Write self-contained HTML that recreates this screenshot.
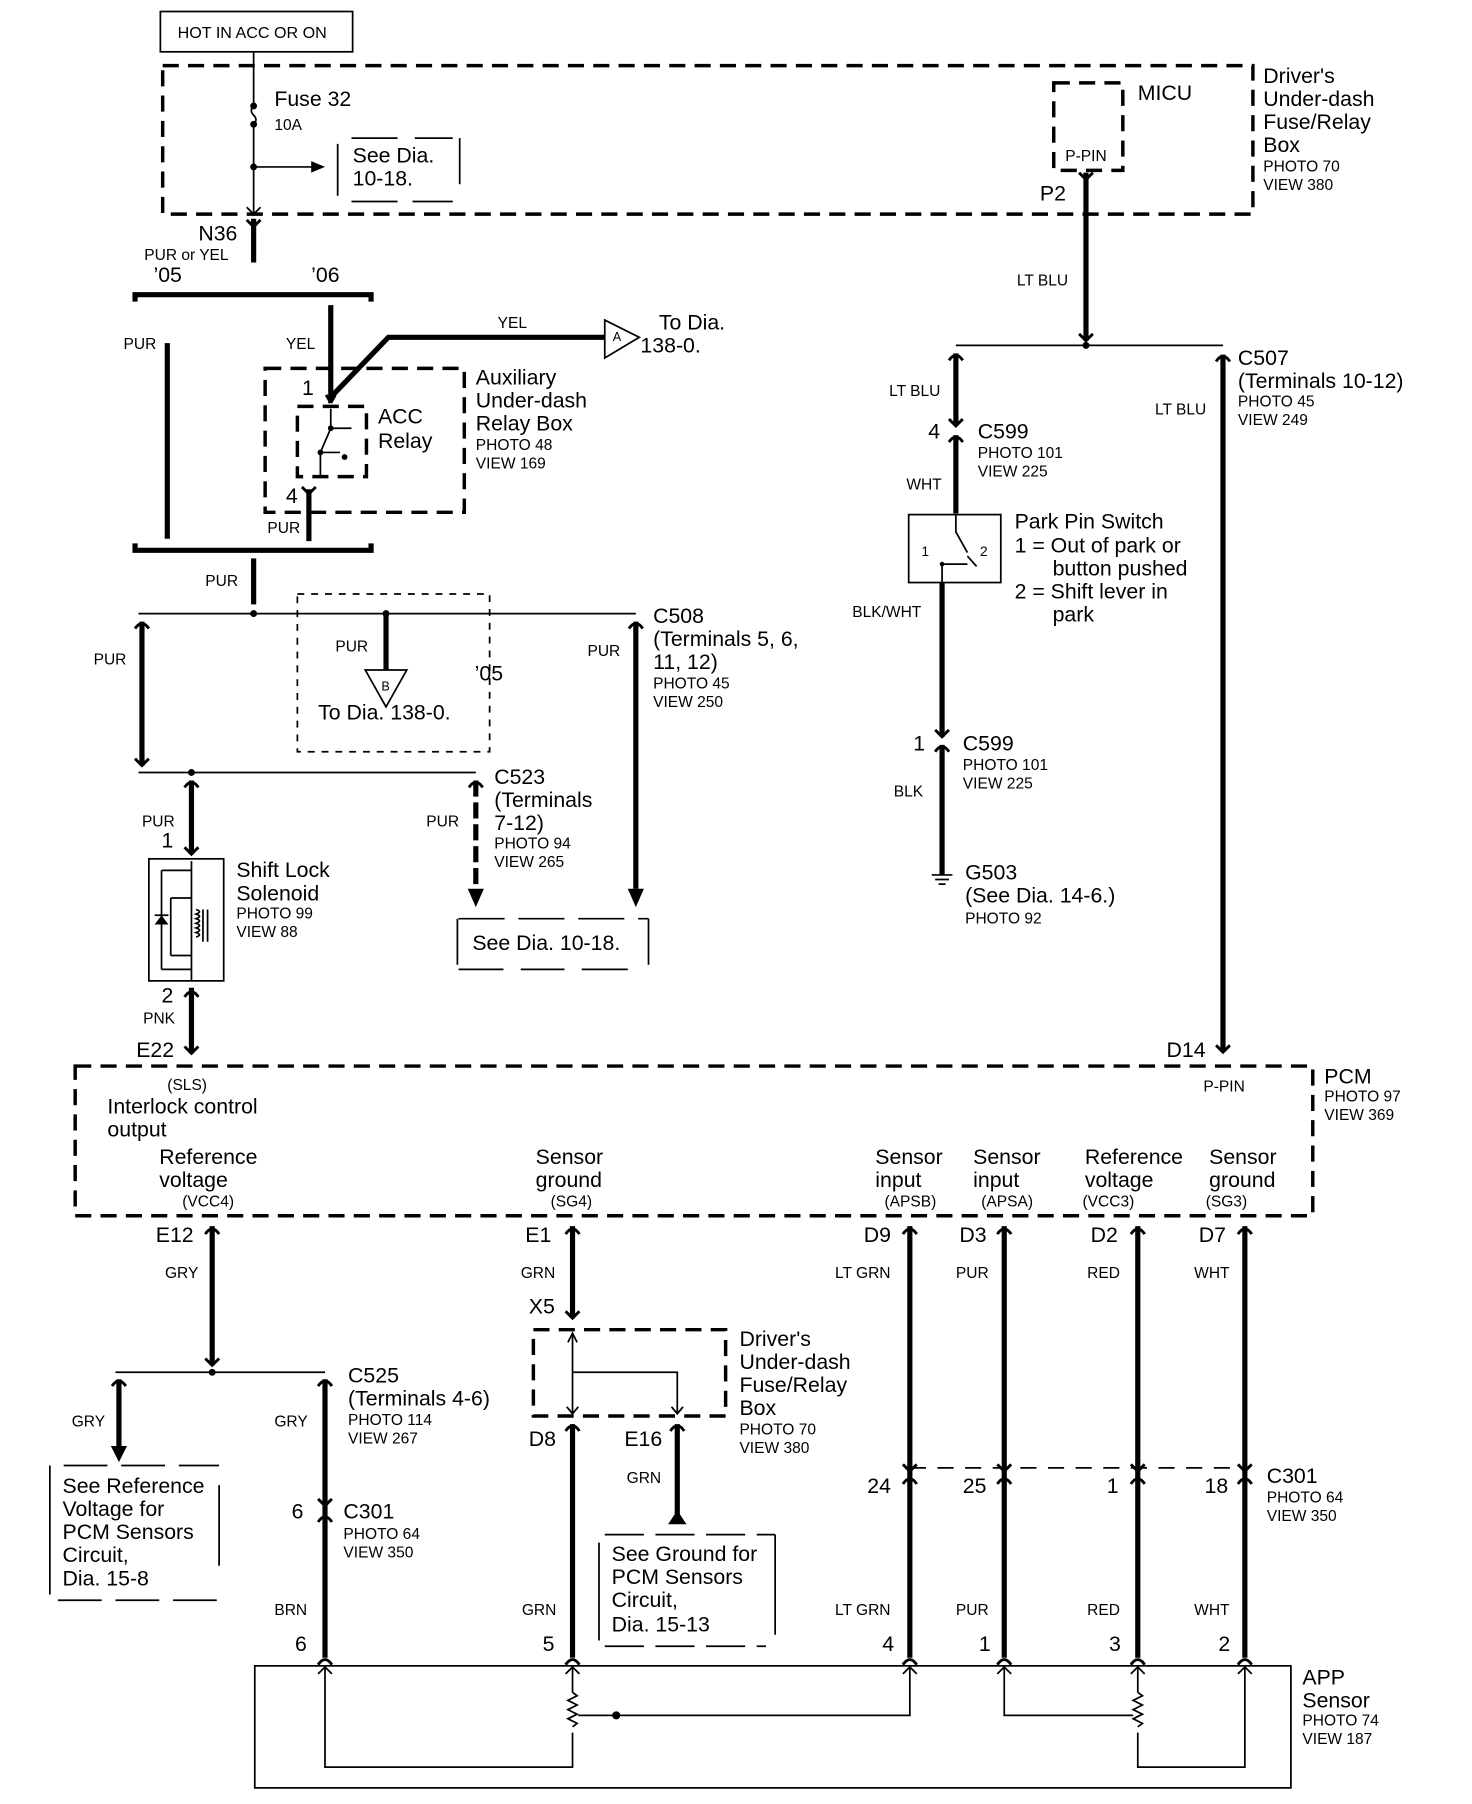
<!DOCTYPE html>
<html><head><meta charset="utf-8"><style>
html,body{margin:0;padding:0;background:#fff}
svg{display:block}
text{font-family:"Liberation Sans",Arial,sans-serif;fill:#000}
.b{font-size:18.5px}.s{font-size:13.5px}
.tk{stroke:#000;stroke-width:4.5;fill:none}
.tn{stroke:#000;stroke-width:1.5;fill:none}
.ds{stroke:#000;stroke-width:3;fill:none;stroke-dasharray:14 8}
.dt{stroke:#000;stroke-width:1.5;fill:none;stroke-dasharray:6 6}
.cv{stroke:#000;stroke-width:2.5;fill:none}
</style></head><body>
<svg width="1472" height="1804" viewBox="0 0 1278 1567" xmlns="http://www.w3.org/2000/svg">
<defs>
<path id="up" d="M-6,-6 L0,0 L6,-6" class="cv"/>
<path id="dn" d="M-6,6 Q0,-3 6,6" class="cv"/>
</defs>
<!-- top -->
<rect x="139" y="10" width="167" height="35" class="tn" stroke-width="2"/>
<text x="154" y="33" class="s" style="font-size:14px">HOT IN ACC OR ON</text>
<rect x="141" y="57" width="947" height="129" class="ds"/>
<path d="M220,45 V92 M220,108 V186" class="tn"/>
<path d="M220,92 q-4,4 0,8 q4,4 0,8" class="tn"/>
<circle cx="220" cy="92" r="3"/><circle cx="220" cy="108" r="3"/><circle cx="220" cy="145" r="3"/>
<path d="M220,145 H272" class="tn"/><path d="M270,140 L282,145 L270,150Z"/>
<path d="M214,180 L220,186 L226,180" class="tn"/>
<text x="238" y="92" class="b">Fuse 32</text><text x="238" y="113" class="s">10A</text>
<text x="306" y="141" class="b">See Dia.</text><text x="306" y="161" class="b">10-18.</text>
<path d="M293,125 V170 M399,120 V160" class="tn"/>
<path d="M305,120 H345 M360,120 H393 M305,175 H345 M358,175 H393" class="tn" stroke-width="2"/>
<rect x="915" y="72" width="60" height="76" class="ds" stroke-dasharray="10 6"/>
<text x="925" y="140" class="s">P-PIN</text><text x="988" y="87" class="b">MICU</text>
<text x="903" y="174" class="b">P2</text>
<text x="1097" y="72" class="b">Driver's</text><text x="1097" y="92" class="b">Under-dash</text><text x="1097" y="112" class="b">Fuse/Relay</text><text x="1097" y="132" class="b">Box</text>
<text x="1097" y="149" class="s">PHOTO 70</text><text x="1097" y="165" class="s">VIEW 380</text>
<!-- N36 -->
<path d="M220,190 V228" class="tk"/><use href="#up" x="220" y="197"/>
<text x="172" y="209" class="b">N36</text><text x="125" y="226" class="s">PUR or YEL</text>
<text x="133" y="245" class="b">’05</text><text x="270" y="245" class="b">’06</text>
<path d="M117,262 V256 H322 V262 M117,472 V478 H322 V472" class="tk" stroke-width="3.5"/>
<path d="M145,298 V468" class="tk"/><text x="107" y="303" class="s">PUR</text>
<path d="M287,265 V345 L337,293 H525" class="tk"/><text x="248" y="303" class="s">YEL</text>
<text x="432" y="285" class="s">YEL</text>
<path d="M525,278 L555,293 L525,311Z" class="tn" stroke-width="2"/><text x="532" y="296" class="s" style="font-size:11px">A</text>
<text x="572" y="286" class="b">To Dia.</text><text x="556" y="306" class="b">138-0.</text>
<rect x="230" y="320" width="173" height="125" class="ds" stroke-dasharray="12 7"/>
<rect x="258" y="353" width="60" height="61" class="ds" stroke-dasharray="9 6"/>
<path d="M287,350 L283,343 M287,350 L291,343" class="cv"/>
<path d="M287,355 V372 L278,393 V413 M278,393 H295 M285,372 H305" class="tn"/>
<circle cx="287" cy="372" r="2.5"/><circle cx="278" cy="393" r="2.5"/><circle cx="299" cy="397" r="2.5"/>
<text x="262" y="343" class="b">1</text><text x="248" y="437" class="b">4</text>
<text x="328" y="368" class="b">ACC</text><text x="328" y="389" class="b">Relay</text>
<text x="413" y="334" class="b">Auxiliary</text><text x="413" y="354" class="b">Under-dash</text><text x="413" y="374" class="b">Relay Box</text>
<text x="413" y="391" class="s">PHOTO 48</text><text x="413" y="407" class="s">VIEW 169</text>
<path d="M268,425 V470" class="tk"/><use href="#up" x="268" y="429"/><text x="232" y="463" class="s">PUR</text>
<path d="M220,485 V525" class="tk"/><text x="178" y="509" class="s">PUR</text>
<path d="M120,533 H552" class="tn"/><circle cx="220" cy="533" r="3"/><circle cx="335" cy="533" r="3"/>
<rect x="258" y="516" width="167" height="137" class="dt"/>
<text x="412" y="591" class="b">’05</text><text x="291" y="566" class="s">PUR</text>
<path d="M335,533 V582" class="tk"/>
<path d="M317,582 H353 L335,614Z" class="tn" stroke-width="2"/><text x="331" y="600" class="s" style="font-size:11px">B</text>
<text x="276" y="625" class="b">To Dia. 138-0.</text>
<path d="M123,540 V665" class="tk"/><use href="#dn" x="123" y="540"/><use href="#up" x="123" y="665"/><text x="81" y="577" class="s">PUR</text>
<path d="M552,540 V772" class="tk"/><use href="#dn" x="552" y="540"/><path d="M545,772 L552,788 L559,772Z"/><text x="510" y="570" class="s">PUR</text>
<text x="567" y="541" class="b">C508</text><text x="567" y="561" class="b">(Terminals 5, 6,</text><text x="567" y="581" class="b">11, 12)</text>
<text x="567" y="598" class="s">PHOTO 45</text><text x="567" y="614" class="s">VIEW 250</text>
<path d="M120,671 H413" class="tn"/><circle cx="166" cy="671" r="3"/>
<text x="429" y="681" class="b">C523</text><text x="429" y="701" class="b">(Terminals</text><text x="429" y="721" class="b">7-12)</text>
<text x="429" y="737" class="s">PHOTO 94</text><text x="429" y="753" class="s">VIEW 265</text>
<path d="M166,678 V742" class="tk"/><use href="#dn" x="166" y="678"/><use href="#up" x="166" y="742"/><text x="123" y="718" class="s">PUR</text><text x="140" y="736" class="b">1</text>
<path d="M413,678 V772" class="tk" stroke-dasharray="14 5"/><use href="#dn" x="413" y="678"/><path d="M406,772 L413,788 L420,772Z"/><text x="370" y="718" class="s">PUR</text>
<text x="410" y="825" class="b">See Dia. 10-18.</text>
<path d="M397,798 V838 M563,798 V838" class="tn"/>
<path d="M398,798 H563 M398,842 H437 M452,842 H490 M505,842 H545" class="tn" stroke-width="2" stroke-dasharray="40 12"/>
<rect x="129" y="746" width="65" height="106" class="tn" stroke-width="2.5"/>
<path d="M166,748 V852 M140,756 H166 M140,842 H166 M140,756 V842 M148,780 V830 M148,830 H166 M148,780 H166" class="tn"/>
<path d="M134,803 H146 L140,795Z"/><path d="M134,795 H146" class="tn"/>
<path d="M176,790 V818 M180,790 V818 M170,790 q6,2 0,4 q6,2 0,4 q6,2 0,4 q6,2 0,4 q6,2 0,4 q6,2 0,4" class="tn"/>
<text x="205" y="762" class="b">Shift Lock</text><text x="205" y="782" class="b">Solenoid</text>
<text x="205" y="798" class="s">PHOTO 99</text><text x="205" y="814" class="s">VIEW 88</text>
<text x="140" y="871" class="b">2</text><text x="124" y="889" class="s">PNK</text>
<path d="M166,858 V915" class="tk"/><use href="#dn" x="166" y="860"/><use href="#up" x="166" y="915"/>
<text x="118" y="918" class="b">E22</text>
<!-- right top -->
<path d="M943,150 V296" class="tk"/><use href="#up" x="943" y="156"/><use href="#up" x="943" y="296"/>
<text x="883" y="248" class="s">LT BLU</text>
<path d="M830,300 H1062" class="tn"/><circle cx="943" cy="300" r="3"/>
<path d="M830,307 V368" class="tk"/><use href="#dn" x="830" y="307"/><use href="#up" x="830" y="370"/><text x="772" y="344" class="s">LT BLU</text>
<text x="806" y="381" class="b">4</text><text x="849" y="381" class="b">C599</text><text x="849" y="398" class="s">PHOTO 101</text><text x="849" y="414" class="s">VIEW 225</text>
<path d="M830,378 V446" class="tk"/><use href="#dn" x="830" y="378"/><text x="787" y="425" class="s">WHT</text>
<rect x="789" y="447" width="80" height="59" class="tn" stroke-width="2.5"/>
<path d="M830,447 V462 L840,480 M818,490 V506 M818,490 H840 M840,483 L848,492" class="tn"/>
<circle cx="818" cy="490" r="2"/>
<text x="800" y="483" class="s" style="font-size:12px">1</text><text x="851" y="483" class="s" style="font-size:12px">2</text>
<text x="881" y="459" class="b">Park Pin Switch</text><text x="881" y="480" class="b">1 = Out of park or</text><text x="914" y="500" class="b">button pushed</text>
<text x="881" y="520" class="b">2 = Shift lever in</text><text x="914" y="540" class="b">park</text>
<path d="M818,506 V640" class="tk"/><text x="740" y="536" class="s">BLK/WHT</text>
<use href="#up" x="818" y="640"/><use href="#dn" x="818" y="647"/>
<text x="793" y="652" class="b">1</text><text x="836" y="652" class="b">C599</text><text x="836" y="669" class="s">PHOTO 101</text><text x="836" y="685" class="s">VIEW 225</text>
<path d="M818,647 V760" class="tk"/><text x="776" y="692" class="s">BLK</text>
<path d="M809,760 H827 M812,764 H824 M815,768 H821" class="tn" stroke-width="2"/>
<text x="838" y="764" class="b">G503</text><text x="838" y="784" class="b">(See Dia. 14-6.)</text><text x="838" y="802" class="s">PHOTO 92</text>
<path d="M1062,308 V912" class="tk"/><use href="#dn" x="1062" y="308"/><use href="#up" x="1062" y="914"/>
<text x="1003" y="360" class="s">LT BLU</text>
<text x="1075" y="317" class="b">C507</text><text x="1075" y="337" class="b">(Terminals 10-12)</text><text x="1075" y="353" class="s">PHOTO 45</text><text x="1075" y="369" class="s">VIEW 249</text>
<text x="1013" y="918" class="b">D14</text>
<!-- PCM -->
<rect x="65" y="926" width="1075" height="130" class="ds"/>
<text x="145" y="947" class="s">(SLS)</text><text x="93" y="967" class="b">Interlock control</text><text x="93" y="987" class="b">output</text>
<text x="1045" y="948" class="s">P-PIN</text>
<text x="1150" y="941" class="b">PCM</text><text x="1150" y="957" class="s">PHOTO 97</text><text x="1150" y="973" class="s">VIEW 369</text>
<text x="138" y="1011" class="b">Reference</text><text x="138" y="1031" class="b">voltage</text><text x="158" y="1048" class="s">(VCC4)</text>
<text x="465" y="1011" class="b">Sensor</text><text x="465" y="1031" class="b">ground</text><text x="478" y="1048" class="s">(SG4)</text>
<text x="760" y="1011" class="b">Sensor</text><text x="760" y="1031" class="b">input</text><text x="768" y="1048" class="s">(APSB)</text>
<text x="845" y="1011" class="b">Sensor</text><text x="845" y="1031" class="b">input</text><text x="852" y="1048" class="s">(APSA)</text>
<text x="942" y="1011" class="b">Reference</text><text x="942" y="1031" class="b">voltage</text><text x="940" y="1048" class="s">(VCC3)</text>
<text x="1050" y="1011" class="b">Sensor</text><text x="1050" y="1031" class="b">ground</text><text x="1047" y="1048" class="s">(SG3)</text>
<!-- bottom left -->
<text x="135" y="1079" class="b">E12</text>
<path d="M184,1065 V1186" class="tk"/><use href="#dn" x="184" y="1066"/><use href="#up" x="184" y="1186"/><text x="143" y="1110" class="s">GRY</text>
<path d="M100,1192 H282" class="tn"/><circle cx="184" cy="1192" r="3"/>
<path d="M103,1198 V1257" class="tk"/><use href="#dn" x="103" y="1198"/><path d="M96,1256 L103,1270 L110,1256Z"/><text x="62" y="1239" class="s">GRY</text>
<text x="54" y="1297" class="b">See Reference</text><text x="54" y="1317" class="b">Voltage for</text><text x="54" y="1337" class="b">PCM Sensors</text><text x="54" y="1357" class="b">Circuit,</text><text x="54" y="1377" class="b">Dia. 15-8</text>
<path d="M43,1273 V1385 M190,1290 V1360" class="tn"/>
<path d="M55,1273 H190 M50,1390 H190" class="tn" stroke-width="2" stroke-dasharray="38 12"/>
<path d="M282,1198 V1440" class="tk"/><use href="#dn" x="282" y="1198"/><use href="#up" x="282" y="1308"/><use href="#dn" x="282" y="1316"/><use href="#dn" x="282" y="1440"/>
<text x="238" y="1239" class="s">GRY</text>
<text x="302" y="1201" class="b">C525</text><text x="302" y="1221" class="b">(Terminals 4-6)</text><text x="302" y="1238" class="s">PHOTO 114</text><text x="302" y="1254" class="s">VIEW 267</text>
<text x="253" y="1319" class="b">6</text><text x="298" y="1319" class="b">C301</text><text x="298" y="1337" class="s">PHOTO 64</text><text x="298" y="1353" class="s">VIEW 350</text>
<text x="238" y="1403" class="s">BRN</text><text x="256" y="1434" class="b">6</text>
<text x="456" y="1079" class="b">E1</text>
<path d="M497,1065 V1145" class="tk"/><use href="#dn" x="497" y="1066"/><use href="#up" x="497" y="1145"/><text x="452" y="1110" class="s">GRN</text>
<text x="459" y="1141" class="b">X5</text>
<rect x="463" y="1155" width="167" height="75" class="ds" stroke-dasharray="12 7"/>
<path d="M497,1158 V1228 M497,1192 H588 V1228" class="tn"/>
<path d="M493,1166 L497,1158 L501,1166 M492,1222 L497,1228 L502,1222 M583,1222 L588,1228 L593,1222" class="tn"/>
<text x="459" y="1256" class="b">D8</text><text x="542" y="1256" class="b">E16</text>
<path d="M497,1237 V1440" class="tk"/><use href="#dn" x="497" y="1237"/><use href="#dn" x="497" y="1440"/>
<path d="M588,1237 V1318" class="tk"/><use href="#dn" x="588" y="1237"/><path d="M580,1324 L588,1312 L596,1324Z"/>
<text x="544" y="1288" class="s">GRN</text>
<text x="642" y="1169" class="b">Driver's</text><text x="642" y="1189" class="b">Under-dash</text><text x="642" y="1209" class="b">Fuse/Relay</text><text x="642" y="1229" class="b">Box</text>
<text x="642" y="1246" class="s">PHOTO 70</text><text x="642" y="1262" class="s">VIEW 380</text>
<text x="531" y="1356" class="b">See Ground for</text><text x="531" y="1376" class="b">PCM Sensors</text><text x="531" y="1396" class="b">Circuit,</text><text x="531" y="1417" class="b">Dia. 15-13</text>
<path d="M520,1340 V1425 M673,1333 V1420" class="tn"/>
<path d="M525,1333 H673 M525,1430 H665" class="tn" stroke-width="2" stroke-dasharray="34 10"/>
<text x="453" y="1403" class="s">GRN</text><text x="471" y="1434" class="b">5</text>
<!-- bottom right -->
<path d="M790,1065 V1440 M872,1065 V1440 M988,1065 V1440 M1081,1065 V1440" class="tk"/>
<g>
<use href="#dn" x="790" y="1066"/><use href="#dn" x="872" y="1066"/><use href="#dn" x="988" y="1066"/><use href="#dn" x="1081" y="1066"/>
<use href="#up" x="790" y="1278"/><use href="#up" x="872" y="1278"/><use href="#up" x="988" y="1278"/><use href="#up" x="1081" y="1278"/>
<use href="#dn" x="790" y="1283"/><use href="#dn" x="872" y="1283"/><use href="#dn" x="988" y="1283"/><use href="#dn" x="1081" y="1283"/>
<use href="#dn" x="790" y="1440"/><use href="#dn" x="872" y="1440"/><use href="#dn" x="988" y="1440"/><use href="#dn" x="1081" y="1440"/>
</g>
<text x="750" y="1079" class="b">D9</text><text x="833" y="1079" class="b">D3</text><text x="947" y="1079" class="b">D2</text><text x="1041" y="1079" class="b">D7</text>
<text x="725" y="1110" class="s">LT GRN</text><text x="830" y="1110" class="s">PUR</text><text x="944" y="1110" class="s">RED</text><text x="1037" y="1110" class="s">WHT</text>
<path d="M790,1275 H1081" class="tn" stroke-width="2" stroke-dasharray="14 10"/>
<text x="753" y="1297" class="b">24</text><text x="836" y="1297" class="b">25</text><text x="961" y="1297" class="b">1</text><text x="1046" y="1297" class="b">18</text>
<text x="1100" y="1288" class="b">C301</text><text x="1100" y="1305" class="s">PHOTO 64</text><text x="1100" y="1321" class="s">VIEW 350</text>
<text x="725" y="1403" class="s">LT GRN</text><text x="830" y="1403" class="s">PUR</text><text x="944" y="1403" class="s">RED</text><text x="1037" y="1403" class="s">WHT</text>
<text x="766" y="1434" class="b">4</text><text x="850" y="1434" class="b">1</text><text x="963" y="1434" class="b">3</text><text x="1058" y="1434" class="b">2</text>
<!-- APP -->
<rect x="221" y="1447" width="900" height="106" class="tn" stroke-width="3"/>
<path d="M282,1448 V1535 H497 V1505 M497,1448 V1470 M790,1448 V1490 H502 M872,1448 V1490 H984 M988,1448 V1470 M988,1505 V1535 H1081 V1448" class="tn"/>
<path d="M497,1470 l4,3 l-8,4 l8,4 l-8,4 l8,4 l-8,4 l8,4 l-4,3 M988,1470 l4,3 l-8,4 l8,4 l-8,4 l8,4 l-8,4 l8,4 l-4,3" class="tn"/>
<circle cx="535" cy="1490" r="3.5"/>
<path d="M276,1454 L282,1448 L288,1454 M491,1454 L497,1448 L503,1454 M784,1454 L790,1448 L796,1454 M866,1454 L872,1448 L878,1454 M982,1454 L988,1448 L994,1454 M1075,1454 L1081,1448 L1087,1454" class="tn"/>
<text x="1131" y="1463" class="b">APP</text><text x="1131" y="1483" class="b">Sensor</text><text x="1131" y="1499" class="s">PHOTO 74</text><text x="1131" y="1515" class="s">VIEW 187</text>
</svg>
</body></html>
